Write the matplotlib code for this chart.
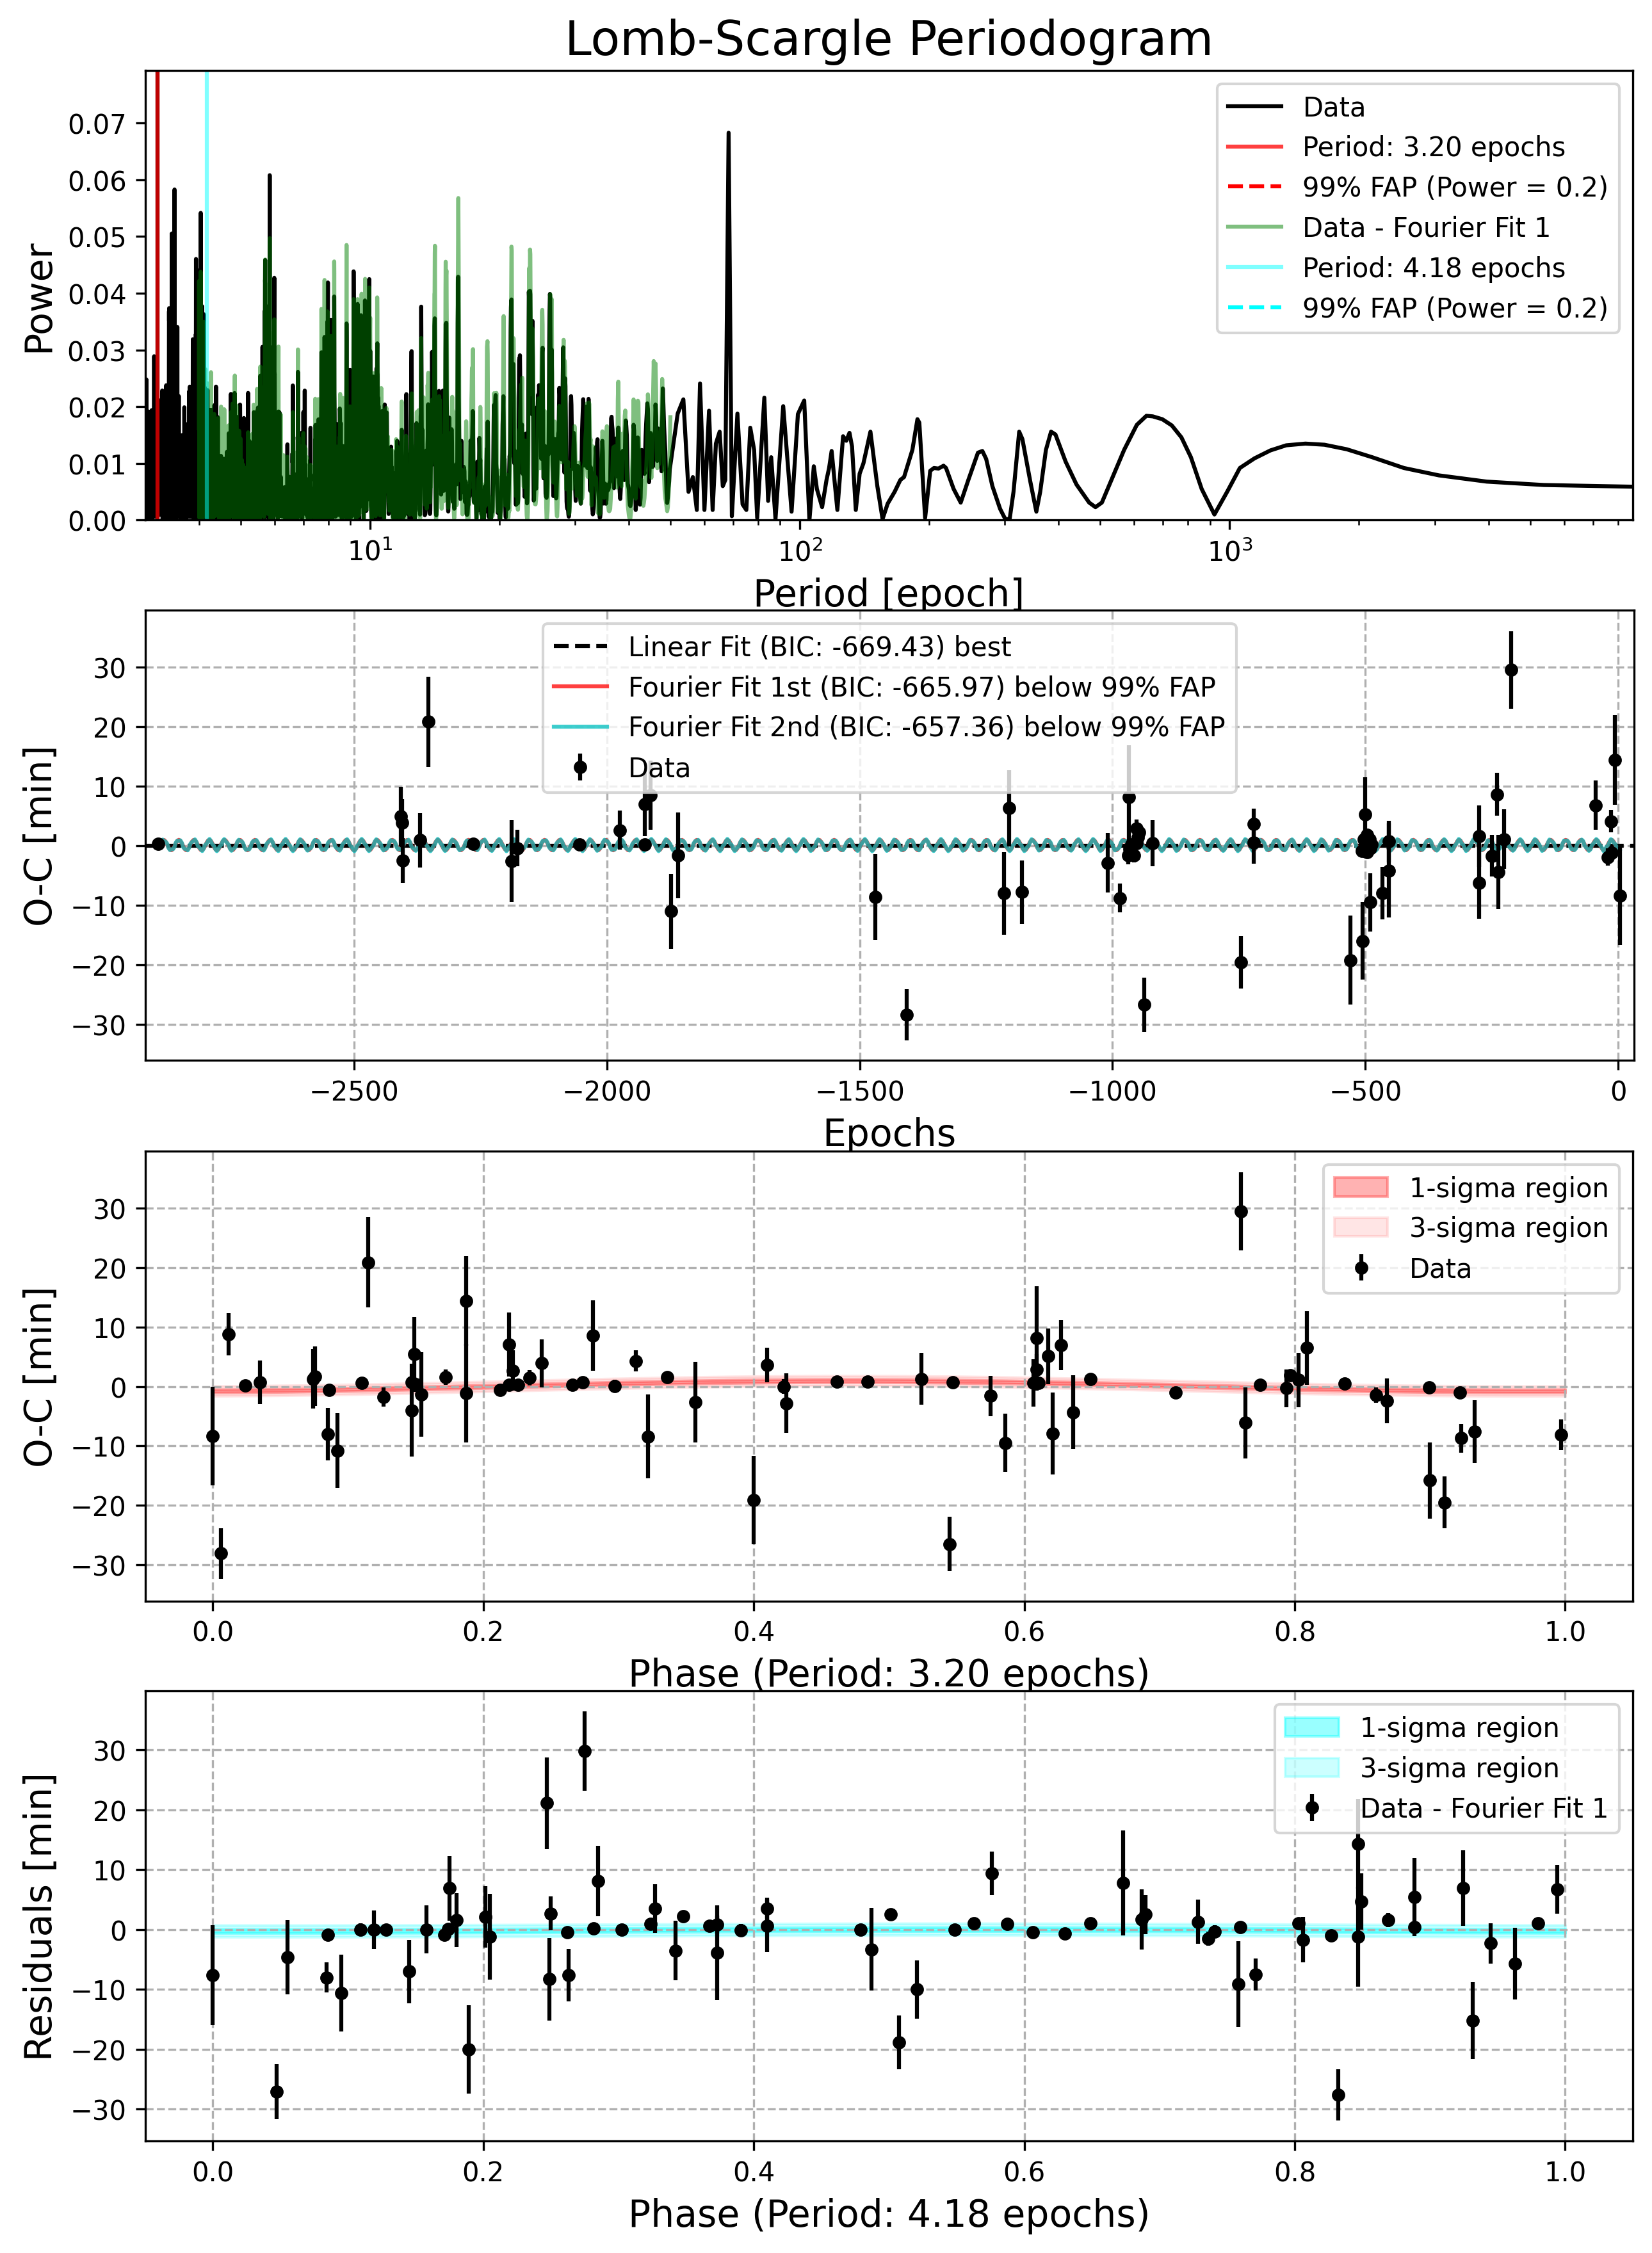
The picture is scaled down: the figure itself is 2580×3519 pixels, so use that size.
import numpy as np
import matplotlib
matplotlib.use("Agg")
import matplotlib.pyplot as plt

# ---------------- O-C data versus epoch (panel 2) ----------------
epochs = np.array([
    -2887, -2408, -2405, -2404, -2369, -2353, -2264, -2188, -2177, -2054,
    -1974, -1925, -1913, -1925, -1873, -1859, -1469,
    -1407, -1214, -1205, -1179, -1009, -985, -968,
    -952, -950, -952, -967, -969, -957, -963, -948,
    -921, -937, -746, -721, -721, -530, -506, -501,
    -496, -492, -503, -499, -507, -490, -496, -488,
    -490, -466, -454, -454, -275, -275, -250, -240, -237, -226, -212,
    -44, -21, -14, -13, -7, 3])
oc = np.array([
    0.3, 4.9, 3.8, -2.5, 0.9, 20.8, 0.3, -2.6, -0.4, 0.2,
    2.6, 7.0, 8.5, 0.2, -11.0, -1.6, -8.6,
    -28.4, -8.0, 6.3, -7.8, -2.9, -8.8, 8.1,
    2.9, 1.4, 0.4, -0.5, -1.6, -1.6, 0.2, 2.2,
    0.4, -26.7, -19.6, 3.6, 0.5, -19.2, -16.0, 5.2,
    1.8, 1.1, 1.1, 0.0, -0.9, -0.4, -1.1, 0.2,
    -9.5, -8.0, -4.2, 0.7, 1.6, -6.2, -1.7, 8.6, -4.4, 1.1, 29.5,
    6.8, -1.9, 4.1, -1.2, 14.4, -8.4])
oc_err = np.array([
    0.5, 5.0, 4.0, 3.8, 4.6, 7.6, 0.6, 6.9, 3.1, 0.6,
    3.3, 5.4, 5.8, 0.6, 6.3, 7.2, 7.2,
    4.3, 6.9, 6.4, 5.3, 5.0, 2.4, 8.8,
    1.5, 1.2, 0.8, 1.0, 1.5, 1.2, 0.8, 1.0,
    3.9, 4.6, 4.4, 2.6, 3.5, 7.5, 6.5, 6.3,
    1.0, 1.0, 0.8, 0.8, 1.0, 0.8, 0.8, 0.8,
    4.9, 4.4, 7.9, 3.5, 5.2, 6.1, 3.5, 3.6, 6.2, 5.0, 6.5,
    4.1, 1.5, 1.9, 1.0, 7.5, 8.3])

# ---------------- long-period part of the periodogram ----------------
long_period = np.array([
    52.0, 53.6, 55.1, 56.4, 57.6, 58.6, 60.0, 61.5, 62.7, 63.8,
    65.1, 66.2, 67.1, 68.3, 69.5, 71.6, 73.6, 75.1, 76.7, 78.3,
    79.6, 82.7, 84.4, 85.8, 87.8, 91.5, 95.7, 99.0, 102.4, 105.3,
    107.8, 109.6, 112.7, 115.4, 117.0, 118.6, 122.3, 126.1, 128.3, 130.5,
    132.3, 135.0, 137.8, 140.6, 146.0, 151.5, 155.8, 160.1, 166.2, 171.4,
    174.8, 182.8, 187.8, 189.7, 195.7, 201.1, 205.2, 210.2, 216.0, 218.9,
    228.0, 236.8, 246.7, 259.7, 265.9, 271.4, 280.6, 292.4, 300.6, 307.8,
    314.2, 323.9, 329.5, 343.2, 355.1, 362.5, 373.8, 384.2, 393.4, 415.5,
    440.2, 471.2, 487.4, 504.4, 530.9, 568.3, 608.2, 640.3, 662.5, 697.2,
    733.7, 772.3, 812.7, 861.0, 921.7, 986.7, 1056.3, 1142.5, 1244.2, 1354.3,
    1500.5, 1661.9, 1872.8, 2145.6, 2543.5, 3068.0, 3962.0, 5381.0, 8670.0])
long_power = np.array([
    0.0188, 0.0213, 0.0050, 0.0076, 0.0018, 0.0241, 0.0018, 0.0193, 0.0018, 0.0135,
    0.0156, 0.0060, 0.0071, 0.0683, 0.0007, 0.0188, 0.0028, 0.0018, 0.0163, 0.0124,
    0.0004, 0.0216, 0.0034, 0.0111, 0.0002, 0.0201, 0.0015, 0.0187, 0.0211, 0.0000,
    0.0095, 0.0055, 0.0023, 0.0071, 0.0092, 0.0122, 0.0018, 0.0148, 0.0140, 0.0154,
    0.0130, 0.0018, 0.0082, 0.0100, 0.0156, 0.0060, 0.0002, 0.0029, 0.0050, 0.0071,
    0.0076, 0.0124, 0.0178, 0.0172, 0.0004, 0.0087, 0.0092, 0.0091, 0.0096, 0.0092,
    0.0055, 0.0031, 0.0071, 0.0119, 0.0122, 0.0108, 0.0060, 0.0020, 0.0002, 0.0002,
    0.0050, 0.0156, 0.0143, 0.0071, 0.0015, 0.0050, 0.0124, 0.0156, 0.0151, 0.0103,
    0.0063, 0.0031, 0.0023, 0.0031, 0.0071, 0.0124, 0.0168, 0.0184, 0.0183, 0.0178,
    0.0167, 0.0146, 0.0111, 0.0055, 0.0010, 0.0050, 0.0092, 0.0109, 0.0123, 0.0132,
    0.0135, 0.0133, 0.0125, 0.0111, 0.0092, 0.0079, 0.0068, 0.0062, 0.0059])

# ---------------- phase-folded O-C (panel 3, period 3.20) ----------------
phase1 = np.array([
    0.000, 0.006, 0.0116, 0.024, 0.035, 0.074, 0.0755, 0.085, 0.086, 0.092,
    0.110, 0.115, 0.126, 0.147, 0.147, 0.149, 0.150, 0.154, 0.172, 0.1875,
    0.1875, 0.2125, 0.219, 0.219, 0.222, 0.2255, 0.234, 0.243, 0.266, 0.2735,
    0.281, 0.297, 0.313, 0.322, 0.336, 0.357, 0.400, 0.410, 0.422, 0.424,
    0.4614, 0.484, 0.524, 0.545, 0.547, 0.575, 0.586, 0.607, 0.609, 0.609,
    0.6105, 0.6177, 0.621, 0.627, 0.636, 0.649, 0.712, 0.760, 0.7636, 0.7745,
    0.794, 0.7966, 0.803, 0.809, 0.837, 0.860, 0.868, 0.8994, 0.8997, 0.911,
    0.922, 0.923, 0.933, 0.997])
oc1 = np.array([
    -8.3, -28.1, 8.8, 0.2, 0.7, 1.3, 1.7, -8.0, -0.6, -10.8,
    0.6, 20.9, -1.8, 0.7, -4.0, 5.4, 0.4, -1.3, 1.6, 14.4,
    -1.1, -0.6, 7.1, 0.3, 2.7, 0.3, 1.5, 3.9, 0.3, 0.7,
    8.6, 0.1, 4.3, -8.4, 1.6, -2.6, -19.1, 3.6, 0.0, -2.8,
    0.8, 0.8, 1.3, -26.5, 0.7, -1.6, -9.5, 0.6, 2.9, 8.1,
    0.6, 5.1, -7.9, 7.0, -4.3, 1.3, -1.0, 29.5, -6.1, 0.3,
    -0.3, 1.9, 1.1, 6.5, 0.5, -1.4, -2.4, -0.2, -15.8, -19.5,
    -1.0, -8.7, -7.6, -8.1])
err1 = np.array([
    8.3, 4.3, 3.6, 0.7, 3.7, 5.0, 5.0, 4.4, 0.8, 6.3,
    0.8, 7.6, 1.6, 1.0, 7.8, 6.3, 1.0, 7.1, 1.3, 7.5,
    8.3, 0.8, 5.4, 0.8, 3.4, 0.8, 1.3, 4.0, 0.8, 0.8,
    5.9, 1.0, 1.8, 7.1, 0.8, 6.8, 7.4, 2.9, 1.2, 5.0,
    0.8, 1.0, 4.4, 4.6, 1.0, 3.4, 4.9, 4.0, 2.5, 8.8,
    0.8, 4.7, 6.9, 4.2, 6.2, 0.8, 0.8, 6.6, 6.0, 0.8,
    3.2, 0.8, 4.6, 6.2, 0.8, 1.3, 3.8, 0.8, 6.4, 4.4,
    0.8, 2.4, 5.3, 2.6])

# ---------------- phase-folded residuals (panel 4, period 4.18) ----------------
phase2 = np.array([
    0.000, 0.047, 0.055, 0.084, 0.085, 0.095, 0.109, 0.119, 0.128, 0.145,
    0.158, 0.171, 0.174, 0.175, 0.180, 0.189, 0.2015, 0.205, 0.247, 0.249,
    0.250, 0.262, 0.263, 0.275, 0.2816, 0.285, 0.3025, 0.3235, 0.327, 0.342,
    0.3477, 0.367, 0.373, 0.373, 0.3906, 0.4097, 0.410, 0.479, 0.487, 0.501,
    0.5075, 0.5205, 0.5487, 0.563, 0.576, 0.5874, 0.6061, 0.630, 0.649, 0.673,
    0.6867, 0.6896, 0.7286, 0.736, 0.7406, 0.7583, 0.7597, 0.771, 0.8027, 0.8063,
    0.827, 0.832, 0.8468, 0.849, 0.8468, 0.8693, 0.8887, 0.8887, 0.9245, 0.9317,
    0.9447, 0.9628, 0.9798, 0.9939])
res2 = np.array([
    -7.6, -27.1, -4.6, -8.0, -0.9, -10.6, 0.0, 0.0, 0.0, -7.0,
    0.0, -0.9, 0.1, 6.9, 1.6, -20.0, 2.1, -1.2, 21.1, -8.3,
    2.7, -0.5, -7.6, 29.8, 0.2, 8.1, 0.0, 0.9, 3.5, -3.5,
    2.2, 0.6, 0.8, -3.9, -0.1, 0.6, 3.5, 0.0, -3.3, 2.5,
    -18.8, -10.0, 0.0, 1.0, 9.4, 0.9, -0.4, -0.7, 1.0, 7.8,
    1.7, 2.5, 1.3, -1.5, -0.3, -9.1, 0.4, -7.5, 1.1, -1.7,
    -1.0, -27.6, 14.3, 4.7, -1.2, 1.6, 5.4, 0.4, 6.9, -15.2,
    -2.3, -5.7, 1.0, 6.7])
err2 = np.array([
    8.3, 4.6, 6.2, 2.5, 0.9, 6.4, 1.0, 3.2, 0.8, 5.3,
    4.0, 1.0, 0.8, 5.4, 4.5, 7.4, 5.1, 7.2, 7.6, 6.9,
    2.8, 1.0, 4.4, 6.6, 0.8, 5.9, 0.8, 0.8, 4.1, 5.0,
    1.0, 0.8, 1.5, 7.9, 1.0, 4.4, 1.8, 0.8, 6.9, 1.0,
    4.5, 4.9, 0.8, 0.8, 3.6, 1.0, 0.8, 0.8, 0.8, 8.8,
    5.0, 3.3, 3.7, 1.2, 1.0, 7.2, 0.8, 2.7, 0.8, 3.8,
    0.8, 4.3, 7.5, 4.7, 8.3, 1.2, 6.5, 0.8, 6.3, 6.4,
    3.4, 6.0, 1.0, 4.1])

# ---------------- fit results / labels ----------------
PERIOD_1 = 3.20
PERIOD_2 = 4.18
FIT1_AMP, FIT1_PHASE, FIT1_OFFSET, FIT1_SIGMA = 0.87, 0.22, 0.10, 0.28
FIT2_AMP, FIT2_PHASE, FIT2_OFFSET, FIT2_SIGMA = 0.15, 0.30, -0.10, 0.33
FAP_LEVEL = 0.2
BIC_LINEAR, BIC_FIT1, BIC_FIT2 = -669.43, -665.97, -657.36
MIN_PERIOD, SPLIT_PERIOD, RESID_MIN_PERIOD = 3.0, 50.0, 4.0


def fourier(phase, amp, ph0, off):
    return off + amp * np.sin(2 * np.pi * (phase - ph0))


def lomb_scargle(t, y, dy, freq):
    """Generalised (floating-mean, weighted) Lomb-Scargle, standard normalisation."""
    w = 1.0 / dy ** 2
    w = w / w.sum()
    arg = 2 * np.pi * np.outer(freq, t)
    c, s = np.cos(arg), np.sin(arg)
    Y = np.sum(w * y)
    C, S = c @ w, s @ w
    YY = np.sum(w * y * y) - Y * Y
    YC = c @ (w * y) - Y * C
    YS = s @ (w * y) - Y * S
    CC = (c * c) @ w - C * C
    SS = (s * s) @ w - S * S
    CS = (c * s) @ w - C * S
    D = CC * SS - CS ** 2
    return (SS * YC ** 2 + CC * YS ** 2 - 2 * CS * YC * YS) / (YY * D)


def sine_fit(t, y, dy, period):
    X = np.column_stack([np.ones_like(t), np.cos(2 * np.pi * t / period),
                         np.sin(2 * np.pi * t / period)])
    w = 1.0 / dy ** 2
    beta = np.linalg.solve(X.T @ (X * w[:, None]), X.T @ (w * y))
    return X @ beta


baseline = epochs.max() - epochs.min()
df = 1.0 / (5 * baseline)
freq_short = np.arange(1.0 / SPLIT_PERIOD, 1.0 / MIN_PERIOD, df)
power_short = lomb_scargle(epochs, oc, oc_err, freq_short)
periods = np.concatenate([(1.0 / freq_short)[::-1], long_period])
power = np.concatenate([power_short[::-1], long_power])

resid = oc - sine_fit(epochs, oc, oc_err, PERIOD_1)
freq2 = np.arange(1.0 / SPLIT_PERIOD, 1.0 / RESID_MIN_PERIOD, df)
power2 = lomb_scargle(epochs, resid, oc_err, freq2)
periods2 = 1.0 / freq2

# ---------------- figure ----------------
fig = plt.figure(figsize=(8.6, 11.7333), dpi=300)
L, W, H = 0.0879, 0.9005, 0.1996
ax1 = fig.add_axes([L, 0.7689, W, H])
ax2 = fig.add_axes([L, 0.5293, W + 0.0006, H])
ax3 = fig.add_axes([L, 0.2893, W, H])
ax4 = fig.add_axes([L, 0.0497, W, H])

# Panel 1: periodogram
ax1.plot(periods, power, color='black', lw=1.5, label='Data')
ax1.axvline(PERIOD_1, color='black', lw=1.5)
ax1.axvline(PERIOD_1, color='red', alpha=0.75, lw=1.5,
            label=f'Period: {PERIOD_1:.2f} epochs')
ax1.axhline(FAP_LEVEL, color='red', ls='--', lw=1.5,
            label=f'99% FAP (Power = {FAP_LEVEL:.1f})')
ax1.plot(periods2, power2, color='green', alpha=0.5, lw=1.5,
         label='Data - Fourier Fit 1')
ax1.axvline(PERIOD_2, color='cyan', alpha=0.5, lw=1.5,
            label=f'Period: {PERIOD_2:.2f} epochs')
ax1.axhline(FAP_LEVEL, color='cyan', ls='--', lw=1.5,
            label=f'99% FAP (Power = {FAP_LEVEL:.1f})')
ax1.set_xscale('log')
ax1.set_xlim(periods.min(), periods.max())
ax1.set_ylim(0, 0.0793)
ax1.set_xlabel('Period [epoch]', fontsize=14)
ax1.set_ylabel('Power', fontsize=14)
ax1.set_title('Lomb-Scargle Periodogram', fontsize=18)
ax1.legend(loc='upper right')

# Panel 2: O-C vs epoch
grid_e = np.linspace(epochs.min(), epochs.max(), 1000)
fit1_e = fourier((grid_e / PERIOD_1) % 1, FIT1_AMP, FIT1_PHASE, FIT1_OFFSET)
fit2_e = fit1_e + fourier((grid_e / PERIOD_2) % 1, FIT2_AMP, FIT2_PHASE, 0.0)
ax2.axhline(0, color='black', ls='--', lw=1.5,
            label=f'Linear Fit (BIC: {BIC_LINEAR:.2f}) best')
ax2.plot(grid_e, fit1_e, color='red', alpha=0.75, lw=1.5,
         label=f'Fourier Fit 1st (BIC: {BIC_FIT1:.2f}) below 99% FAP')
ax2.plot(grid_e, fit2_e, color='c', alpha=0.75, lw=1.5,
         label=f'Fourier Fit 2nd (BIC: {BIC_FIT2:.2f}) below 99% FAP')
ax2.errorbar(epochs, oc, yerr=oc_err, fmt='o', color='black', ms=4, label='Data')
ax2.set_xlim(-2913, 31)
ax2.set_ylim(-36.0, 39.5)
ax2.set_xlabel('Epochs', fontsize=14)
ax2.set_ylabel('O-C [min]', fontsize=14)
ax2.grid(True, linestyle='--')
ax2.legend(loc='upper center')

# Panel 3: phase folded with period 1
grid_p = np.linspace(0, 1, 500)
f1 = fourier(grid_p, FIT1_AMP, FIT1_PHASE, FIT1_OFFSET)
ax3.fill_between(grid_p, f1 - FIT1_SIGMA, f1 + FIT1_SIGMA, color='red', alpha=0.3,
                 label='1-sigma region')
ax3.fill_between(grid_p, f1 - 3 * FIT1_SIGMA, f1 + 3 * FIT1_SIGMA, color='red',
                 alpha=0.1, label='3-sigma region')
ax3.errorbar(phase1, oc1, yerr=err1, fmt='o', color='black', ms=4, label='Data')
ax3.set_xlim(-0.05, 1.05)
ax3.set_ylim(-36.1, 39.6)
ax3.set_xlabel(f'Phase (Period: {PERIOD_1:.2f} epochs)', fontsize=14)
ax3.set_ylabel('O-C [min]', fontsize=14)
ax3.grid(True, linestyle='--')
ax3.legend(loc='upper right')

# Panel 4: residuals folded with period 2
f2 = fourier(grid_p, FIT2_AMP, FIT2_PHASE, FIT2_OFFSET)
ax4.fill_between(grid_p, f2 - FIT2_SIGMA, f2 + FIT2_SIGMA, color='cyan', alpha=0.4,
                 label='1-sigma region')
ax4.fill_between(grid_p, f2 - 3 * FIT2_SIGMA, f2 + 3 * FIT2_SIGMA, color='cyan',
                 alpha=0.2, label='3-sigma region')
ax4.errorbar(phase2, res2, yerr=err2, fmt='o', color='black', ms=4,
             label='Data - Fourier Fit 1')
ax4.set_xlim(-0.05, 1.05)
ax4.set_ylim(-35.3, 39.8)
ax4.set_xlabel(f'Phase (Period: {PERIOD_2:.2f} epochs)', fontsize=14)
ax4.set_ylabel('Residuals [min]', fontsize=14)
ax4.grid(True, linestyle='--')
ax4.legend(loc='upper right')

fig.savefig('out.png', dpi=300)
